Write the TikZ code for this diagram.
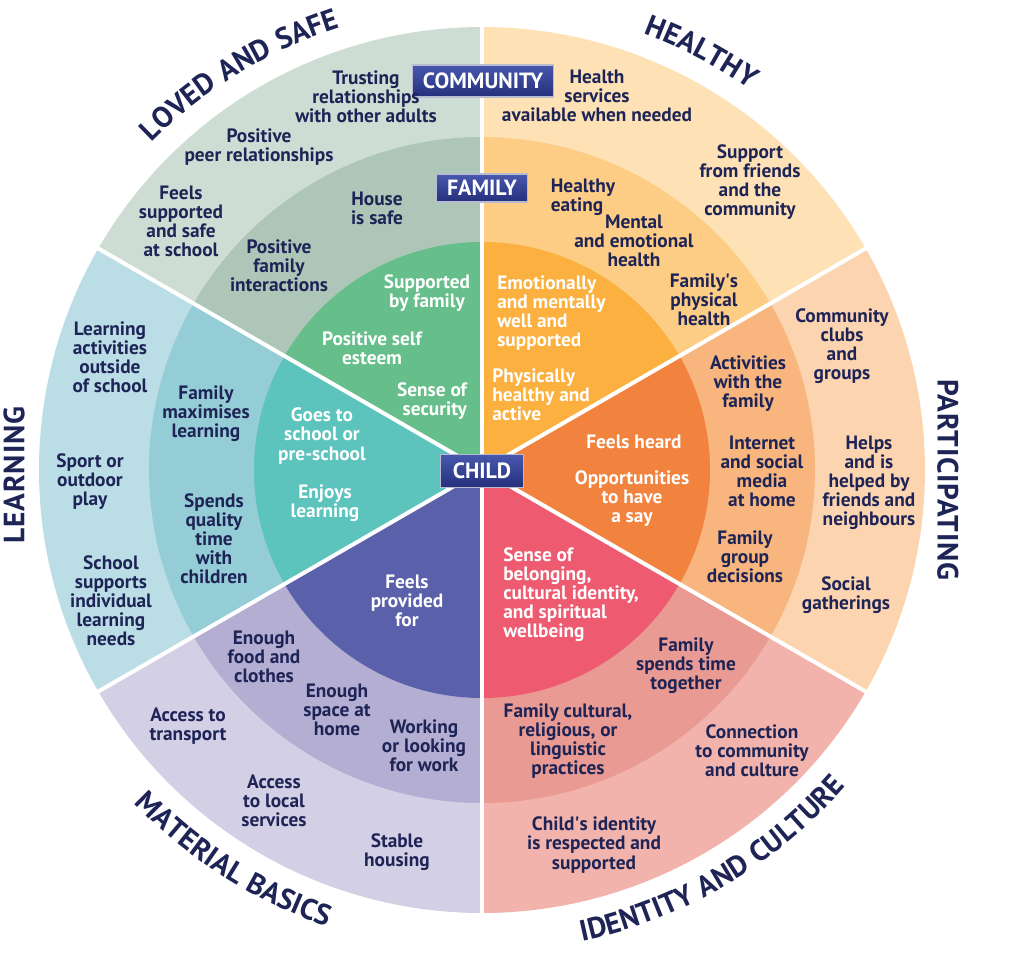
\documentclass[tikz,border=0pt]{standalone}
\usepackage{fontspec}
\setmainfont{PT Sans}
\usepackage{tikz}
\usetikzlibrary{decorations.text}
\usepackage{xcolor}
\definecolor{navy}{HTML}{1E2456}
\definecolor{tagtop}{HTML}{4858AE}
\definecolor{tagbot}{HTML}{25307C}
\definecolor{tagedge}{HTML}{B8BCD0}
\definecolor{lovO}{HTML}{CEDDD3}
\definecolor{lovF}{HTML}{AEC6B7}
\definecolor{lovC}{HTML}{66BE8A}
\definecolor{heaO}{HTML}{FEE2B6}
\definecolor{heaF}{HTML}{FDCD85}
\definecolor{heaC}{HTML}{FBB03F}
\definecolor{parO}{HTML}{FCD5B0}
\definecolor{parF}{HTML}{F8B57E}
\definecolor{parC}{HTML}{F1833F}
\definecolor{ideO}{HTML}{F1B3AB}
\definecolor{ideF}{HTML}{E99A92}
\definecolor{ideC}{HTML}{EE5B70}
\definecolor{matO}{HTML}{D3CFE4}
\definecolor{matF}{HTML}{B3AED2}
\definecolor{matC}{HTML}{5A60A9}
\definecolor{leaO}{HTML}{BADDE6}
\definecolor{leaF}{HTML}{95CDD7}
\definecolor{leaC}{HTML}{5CC3BD}
\newfontfamily\ringfont[LetterSpace=3]{PT Sans}

\begin{document}
\begin{tikzpicture}[
  x=0.75pt, y=0.75pt,
  item/.style={font=\bfseries\fontsize{14.5}{14.3}\selectfont, text=navy,
               align=center, inner sep=0pt},
  kid/.style={item, text=white},
  tag/.style={draw=tagedge, line width=1.2pt, top color=tagtop, bottom color=tagbot,
              text=white, font=\bfseries\fontsize{16.5}{18}\selectfont, inner sep=0pt},
  divider/.style={white, line width=3pt},
  ttl/.style={font=\ringfont\bfseries\fontsize{22}{24}\selectfont, text=navy},
  arcttl/.style={decorate, decoration={text along path, text align=center,
                 text={|\ringfont\bfseries\fontsize{22}{24}\selectfont\color{navy}|#1}}}
]
\useasboundingbox (-482,-488) rectangle (542,470);
\fill[white] (-482,-488) rectangle (542,470);

\fill[lovO] (0,0) -- (90:443) arc (90:150:443) -- cycle;
\fill[lovF] (0,0) -- (90:333) arc (90:150:333) -- cycle;
\fill[lovC] (0,0) -- (90:228) arc (90:150:228) -- cycle;
\fill[heaO] (0,0) -- (30:443) arc (30:90:443) -- cycle;
\fill[heaF] (0,0) -- (30:333) arc (30:90:333) -- cycle;
\fill[heaC] (0,0) -- (30:228) arc (30:90:228) -- cycle;
\fill[parO] (0,0) -- (-30:443) arc (-30:30:443) -- cycle;
\fill[parF] (0,0) -- (-30:333) arc (-30:30:333) -- cycle;
\fill[parC] (0,0) -- (-30:228) arc (-30:30:228) -- cycle;
\fill[ideO] (0,0) -- (-90:443) arc (-90:-30:443) -- cycle;
\fill[ideF] (0,0) -- (-90:333) arc (-90:-30:333) -- cycle;
\fill[ideC] (0,0) -- (-90:228) arc (-90:-30:228) -- cycle;
\fill[matO] (0,0) -- (210:443) arc (210:270:443) -- cycle;
\fill[matF] (0,0) -- (210:333) arc (210:270:333) -- cycle;
\fill[matC] (0,0) -- (210:228) arc (210:270:228) -- cycle;
\fill[leaO] (0,0) -- (150:443) arc (150:210:443) -- cycle;
\fill[leaF] (0,0) -- (150:333) arc (150:210:333) -- cycle;
\fill[leaC] (0,0) -- (150:228) arc (150:210:228) -- cycle;
\draw[divider] (0,0) -- (30:444);
\draw[divider] (0,0) -- (90:444);
\draw[divider] (0,0) -- (150:444);
\draw[divider] (0,0) -- (210:444);
\draw[divider] (0,0) -- (270:444);
\draw[divider] (0,0) -- (330:444);

\node[tag, minimum width=106pt, minimum height=24pt] (community) at (1,389) {COMMUNITY};
\node[tag, minimum width=68pt, minimum height=21pt] (family) at (0,282) {FAMILY};
\node[tag, minimum width=62pt, minimum height=25pt] (child) at (0,-1) {CHILD};

\path[arcttl=LOVED AND SAFE] (151.5:465) arc (151.5:91.5:465);
\path[arcttl=HEALTHY] (92:465) arc (92:32.6:465);
\path[arcttl=MATERIAL BASICS] (207.5:482) arc (207.5:267.5:482);
\path[arcttl=IDENTITY AND CULTURE] (265:482) arc (265:336:482);
\node[ttl, rotate=-90] (participating) at (466,-10) {PARTICIPATING};
\node[ttl, rotate=90] (learning) at (-468,-5) {LEARNING};

\node[item] (ls1) at (-116,373) {Trusting\\relationships\\with other adults};
\node[item] (ls2) at (-223,323) {Positive\\peer relationships};
\node[item] (ls3) at (-301,249) {Feels\\supported\\and safe\\at school};
\node[item] (ls4) at (-105,262) {House\\is safe};
\node[item] (ls5) at (-203,204) {Positive\\family\\interactions};
\node[kid] (ls6) at (-55,177) {Supported\\by family};
\node[kid] (ls7) at (-110,122) {Positive self\\esteem};
\node[kid, align=right] (ls8) at (-50,69) {Sense of\\security};

\node[item] (h1) at (115,374) {Health\\services\\available when needed};
\node[item] (h2) at (268,288) {Support\\from friends\\and the\\community};
\node[item, align=left] (h3) at (101,273) {Healthy\\eating};
\node[item] (h4) at (152,229) {Mental\\and emotional\\health};
\node[item] (h5) at (222,170) {Family\textquotesingle s\\physical\\health};
\node[kid, align=left, anchor=west] (h6) at (15,157) {Emotionally\\and mentally\\well and\\supported};
\node[kid, align=left, anchor=west] (h7) at (10,75) {Physically\\healthy and\\active};

\node[item] (p1) at (360,124) {Community\\clubs\\and\\groups};
\node[item] (p2) at (266,86) {Activities\\with the\\family};
\node[item] (p3) at (280,-1) {Internet\\and social\\media\\at home};
\node[item] (p4) at (387,-13) {Helps\\and is\\helped by\\friends and\\neighbours};
\node[item] (p5) at (263,-87) {Family\\group\\decisions};
\node[item] (p6) at (364,-125) {Social\\gatherings};
\node[kid] (p7) at (152,28) {Feels heard};
\node[kid] (p8) at (150,-29) {Opportunities\\to have\\a say};

\node[kid, align=left, anchor=west] (i1) at (21,-125) {Sense of\\belonging,\\cultural identity,\\and spiritual\\wellbeing};
\node[item] (i2) at (204,-196) {Family\\spends time\\together};
\node[item] (i3) at (86,-271) {Family cultural,\\religious, or\\linguistic\\practices};
\node[item] (i4) at (270,-281) {Connection\\to community\\and culture};
\node[item] (i5) at (112,-375) {Child\textquotesingle s identity\\is respected and\\supported};

\node[kid] (m1) at (-75,-131) {Feels\\provided\\for};
\node[item] (m2) at (-218,-187) {Enough\\food and\\clothes};
\node[item] (m3) at (-145,-240) {Enough\\space at\\home};
\node[item] (m4) at (-58,-276) {Working\\or looking\\for work};
\node[item] (m5) at (-294,-256) {Access to\\transport};
\node[item] (m6) at (-208,-331) {Access\\to local\\services};
\node[item] (m7) at (-85,-382) {Stable\\housing};

\node[item] (l1) at (-372,113) {Learning\\activities\\outside\\of school};
\node[item] (l2) at (-392,-12) {Sport or\\outdoor\\play};
\node[item] (l3) at (-371,-131) {School\\supports\\individual\\learning\\needs};
\node[item] (l4) at (-276,56) {Family\\maximises\\learning};
\node[item] (l5) at (-268,-69) {Spends\\quality\\time\\with\\children};
\node[kid] (l6) at (-160,34) {Goes to\\school or\\pre-school};
\node[kid] (l7) at (-157,-33) {Enjoys\\learning};
\end{tikzpicture}
\end{document}
